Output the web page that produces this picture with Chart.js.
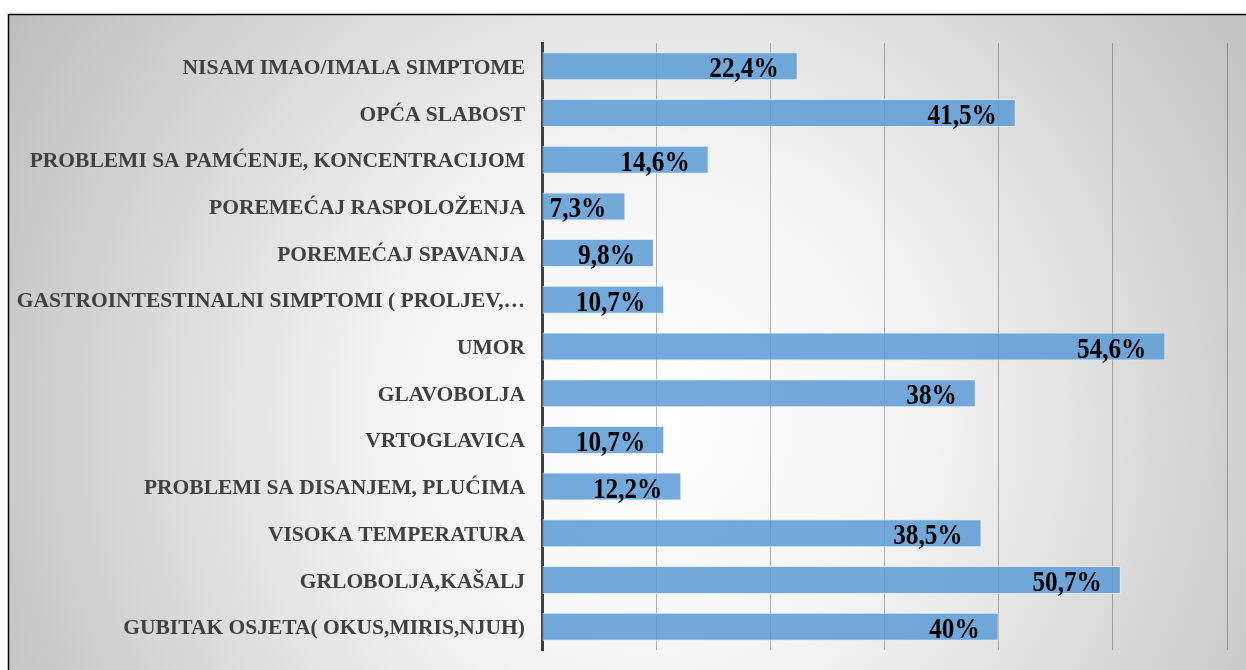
<!DOCTYPE html>
<html>
<head>
<meta charset="utf-8">
<script src="https://cdn.jsdelivr.net/npm/chart.js@4/dist/chart.umd.min.js"></script>
<style>
html,body{margin:0;padding:0;background:#fff;}
#wrap{width:1246px;height:670px;position:relative;}
</style>
</head>
<body>
<div id="wrap"><canvas id="c"></canvas></div>
<script>
const categories = [
  "NISAM IMAO/IMALA SIMPTOME",
  "OPĆA SLABOST",
  "PROBLEMI SA PAMĆENJE, KONCENTRACIJOM",
  "POREMEĆAJ RASPOLOŽENJA",
  "POREMEĆAJ SPAVANJA",
  "GASTROINTESTINALNI SIMPTOMI ( PROLJEV,…",
  "UMOR",
  "GLAVOBOLJA",
  "VRTOGLAVICA",
  "PROBLEMI SA DISANJEM, PLUĆIMA",
  "VISOKA TEMPERATURA",
  "GRLOBOLJA,KAŠALJ",
  "GUBITAK OSJETA( OKUS,MIRIS,NJUH)"
];
const values = [22.4, 41.5, 14.6, 7.3, 9.8, 10.7, 54.6, 38, 10.7, 12.2, 38.5, 50.7, 40];
const axisMin = 0, axisMax = 60, axisStep = 10;

function fmt(v){ return String(v).replace('.', ',') + '%'; }

const bgPlugin = {
  id: 'bg',
  beforeDraw(chart){
    const ctx = chart.ctx;
    const W = chart.width, H = chart.height;
    ctx.save();
    ctx.fillStyle = '#fff';
    ctx.fillRect(0,0,W,H);
    const g = ctx.createRadialGradient(650, 420, 0, 650, 420, 760);
    g.addColorStop(0, '#ffffff');
    g.addColorStop(0.35, '#f4f4f4');
    g.addColorStop(1, '#bdbdbd');
    ctx.fillStyle = g;
    ctx.fillRect(8, 14, W - 8, H - 14);
    ctx.strokeStyle = '#000';
    ctx.lineWidth = 1.5;
    ctx.beginPath();
    ctx.moveTo(8.5, H);
    ctx.lineTo(8.5, 14.5);
    ctx.lineTo(W, 14.5);
    ctx.stroke();
    ctx.restore();
  }
};

const labelPlugin = {
  id: 'vlabels',
  afterDatasetsDraw(chart){
    const ctx = chart.ctx;
    const meta = chart.getDatasetMeta(0);
    ctx.save();
    ctx.fillStyle = '#000';
    ctx.font = 'bold 29px "Liberation Serif", "Times New Roman", serif';
    ctx.textAlign = 'right';
    ctx.textBaseline = 'alphabetic';
    meta.data.forEach((bar, i) => {
      const txt = fmt(chart.data.datasets[0].data[i]);
      const xr = bar.x - 19;
      const yb = bar.y + 11;
      ctx.save();
      ctx.translate(xr, yb);
      ctx.scale(0.87, 1);
      ctx.fillText(txt, 0, 0);
      ctx.restore();
    });
    ctx.restore();
  }
};

new Chart(document.getElementById('c'), {
  type: 'bar',
  data: {
    labels: categories,
    datasets: [{
      data: values,
      backgroundColor: 'rgba(91,155,213,0.85)',
      borderColor: 'rgba(220,235,248,0.9)',
      borderWidth: 1,
      borderSkipped: false,
      categoryPercentage: 1,
      barPercentage: 0.6
    }]
  },
  options: {
    indexAxis: 'y',
    responsive: true,
    maintainAspectRatio: false,
    animation: false,
    layout: { padding: { left: 0, top: 43, right: 19, bottom: 20 } },
    plugins: { legend: { display: false }, tooltip: { enabled: false } },
    scales: {
      x: {
        min: axisMin, max: axisMax,
        ticks: { display: false, stepSize: axisStep },
        grid: { color: 'rgba(0,0,0,0.28)', lineWidth: 1, drawTicks: false },
        border: { display: false },
        afterFit(scale){ scale.height = 0; scale.paddingLeft = 0; scale.paddingRight = 0; }
      },
      y: {
        grid: { display: false, drawTicks: false },
        border: { display: true, color: '#404040', width: 3 },
        ticks: {
          color: '#404040',
          padding: 17,
          labelOffset: 2,
          font: { family: '"Liberation Serif", "Times New Roman", serif', size: 21.5, weight: 'bold' }
        },
        afterFit(scale){ scale.width = 542; scale.paddingTop = 0; scale.paddingBottom = 0; }
      }
    }
  },
  plugins: [bgPlugin, labelPlugin]
});
</script>
</body>
</html>
